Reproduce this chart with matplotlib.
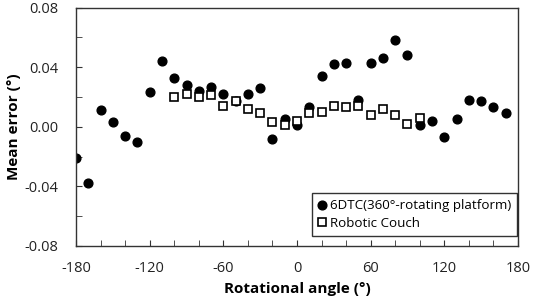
import numpy as np
import matplotlib.pyplot as plt

plt.rcParams['font.family'] = ['Open Sans', 'DejaVu Sans']
plt.rcParams['axes.unicode_minus'] = False

# 6DTC (360-rotating platform), every 10 degrees
angles_6dtc = list(range(-180, 180, 10))
err_6dtc = [-0.021, -0.038, 0.011, 0.003, -0.006, -0.010, 0.023, 0.044, 0.033, 0.028,
            0.024, 0.027, 0.022, 0.017, 0.022, 0.026, -0.008, 0.005, 0.001, 0.013,
            0.034, 0.042, 0.043, 0.018, 0.043, 0.046, 0.058, 0.048, 0.001, 0.004,
            -0.007, 0.005, 0.018, 0.017, 0.013, 0.009]

# Robotic couch, -100 to 100
angles_couch = list(range(-100, 110, 10))
err_couch = [0.020, 0.022, 0.020, 0.021, 0.014, 0.017, 0.012, 0.009, 0.003, 0.001,
             0.004, 0.0095, 0.010, 0.014, 0.013, 0.014, 0.008, 0.012, 0.008, 0.002,
             0.006]

fig = plt.figure(figsize=(5.36, 2.99), dpi=100)
ax = fig.add_axes([0.1418, 0.1773, 0.8246, 0.7976])

ax.plot(angles_6dtc, err_6dtc, 'o', color='black', markersize=6.3,
        label='6DTC(360°-rotating platform)')
ax.plot(angles_couch, err_couch, 's', markerfacecolor='white', markeredgecolor='black',
        markeredgewidth=1.2, markersize=5.5, label='Robotic Couch')

ax.set_xlim(-180, 180)
ax.set_ylim(-0.08, 0.08)
ax.set_xticks(np.arange(-180, 181, 60))
ax.set_xticks(np.arange(-180, 181, 20), minor=True)
ax.set_yticks([-0.08, -0.04, 0.0, 0.04, 0.08])
ax.set_yticks(np.arange(-0.08, 0.081, 0.02), minor=True)
ax.set_yticklabels(['-0.08', '-0.04', '0.00', '0.04', '0.08'])
ax.tick_params(which='both', direction='in', labelsize=10.5, color='#333333',
               labelcolor='#222222', length=4)
ax.tick_params(axis='x', which='major', pad=11)
ax.tick_params(axis='y', which='major', pad=13)
for s in ax.spines.values():
    s.set_color('#333333')
    s.set_linewidth(1.0)

ax.set_xlabel('Rotational angle (°)', fontsize=11, fontweight='bold', labelpad=4)
ax.set_ylabel('Mean error (°)', fontsize=11, fontweight='bold', labelpad=2)

leg = ax.legend(loc='lower right', fontsize=9.6, frameon=True, fancybox=False,
                edgecolor='black', handlelength=0.6, handletextpad=0.3,
                borderpad=0.45, labelspacing=0.35, borderaxespad=0,
                bbox_to_anchor=(0.998, 0.042))
leg.get_frame().set_linewidth(1.0)

fig.savefig('out.png', dpi=100)
